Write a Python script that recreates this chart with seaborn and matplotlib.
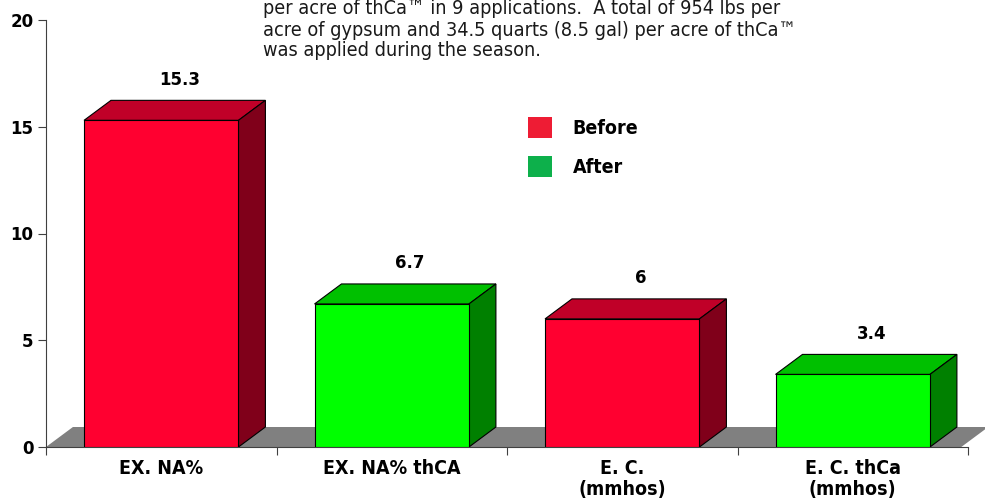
import matplotlib.pyplot as plt
import pandas as pd
import seaborn as sns
from matplotlib.patches import Patch, Polygon

categories = ["EX. NA%", "EX. NA% thCA", "E. C.\n(mmhos)", "E. C. thCa\n(mmhos)"]
values = [15.3, 6.7, 6, 3.4]
groups = ["Before", "After", "Before", "After"]
value_labels = ["15.3", "6.7", "6", "3.4"]
yticks = [0, 5, 10, 15, 20]

note_lines = [
    "per acre of thCa\u2122 in 9 applications.  A total of 954 lbs per",
    "acre of gypsum and 34.5 quarts (8.5 gal) per acre of thCa\u2122",
    "was applied during the season.",
]

FRONT = {"Before": "#FF0030", "After": "#00FF00"}
TOP = {"Before": "#C00028", "After": "#00C000"}
SIDE = {"Before": "#80001A", "After": "#008000"}
LEGEND = {"Before": "#EE1C34", "After": "#0DB04B"}

df = pd.DataFrame({"cat": categories, "val": values, "grp": groups})

sns.set_theme(style="white")
fig = plt.figure(figsize=(9.85, 5.0), dpi=100, facecolor="white")
ax = fig.add_axes([46 / 985, 1 - 447 / 500, (968 - 46) / 985, (447 - 20) / 500])

sns.barplot(data=df, x="cat", y="val", hue="grp", palette=FRONT, dodge=False, saturation=1,
            width=0.67, edgecolor="black", linewidth=0.8, legend=False, ax=ax, zorder=3)

ax.set_xlim(-0.5, 3.5)
ax.set_ylim(0, 20)

# depth of the fake 3D effect, in data units
dx = 27 / 231
dy = 20 / 21.35

# grey floor
floor = Polygon([(-0.5, 0), (-0.5 + dx, dy), (3.5 + dx * 0.75, dy), (3.5 - dx * 0.25, 0)],
                closed=True, facecolor="#808080", edgecolor="none", zorder=1, clip_on=False)
ax.add_patch(floor)

for p in ax.patches[:]:
    if p is floor:
        continue
    x0 = p.get_x()
    w = p.get_width()
    h = p.get_height()
    if w <= 0:
        continue
    x1 = x0 + w
    i = int(round(x0 + w / 2))
    g = groups[i]
    top = Polygon([(x0, h), (x0 + dx, h + dy), (x1 + dx, h + dy), (x1, h)], closed=True,
                  facecolor=TOP[g], edgecolor="black", linewidth=0.8, zorder=2.5, clip_on=False)
    side = Polygon([(x1, 0), (x1, h), (x1 + dx, h + dy), (x1 + dx, dy)], closed=True,
                   facecolor=SIDE[g], edgecolor="black", linewidth=0.8, zorder=2.5, clip_on=False)
    ax.add_patch(top)
    ax.add_patch(side)
    ax.text(i + 0.08, h + dy + 0.55, value_labels[i], ha="center", va="bottom",
            fontsize=12, fontweight="bold", color="black", family="DejaVu Sans")

ax.set_yticks(yticks)
ax.set_yticklabels([str(t) for t in yticks], fontsize=12, fontweight="bold",
                   family="DejaVu Sans", color="black")
ax.set_xticks(range(len(categories)))
ax.set_xticklabels(categories, fontsize=14, fontweight="bold", family="DejaVu Sans",
                   fontstretch="condensed", linespacing=1.1, color="black")
ax.set_xticks([-0.5, 0.5, 1.5, 2.5, 3.5], minor=True)
ax.tick_params(axis="x", which="major", length=0, pad=9)
ax.tick_params(axis="x", which="minor", length=6, width=0.8, color="#404040", direction="out", bottom=True)
ax.tick_params(axis="y", length=6, width=0.8, color="#404040", direction="out", left=True, pad=3)
ax.set_xlabel("")
ax.set_ylabel("")

for s in ["top", "right"]:
    ax.spines[s].set_visible(False)
for s in ["left", "bottom"]:
    ax.spines[s].set_color("#404040")
    ax.spines[s].set_linewidth(0.8)

handles = [Patch(facecolor=LEGEND[k], edgecolor="none") for k in ["Before", "After"]]
leg = ax.legend(handles=handles, labels=["Before", "After"], loc="upper left",
                bbox_to_anchor=(528 / 985, 1 - 117 / 500), bbox_transform=fig.transFigure,
                frameon=False, borderpad=0, borderaxespad=0, handlelength=1.25, handleheight=1.25,
                handletextpad=1.05, labelspacing=0.95,
                prop={"family": "DejaVu Sans", "stretch": "condensed", "weight": "bold", "size": 14})
for t in leg.get_texts():
    t.set_color("black")

for yy, line in zip([8, 30, 51], note_lines):
    fig.text(263 / 985, 1 - yy / 500, line, ha="left", va="center", fontsize=14.2,
             family="DejaVu Sans", fontstretch="condensed", color="#1a1a1a")

fig.savefig("out.png", dpi=100, facecolor="white")
